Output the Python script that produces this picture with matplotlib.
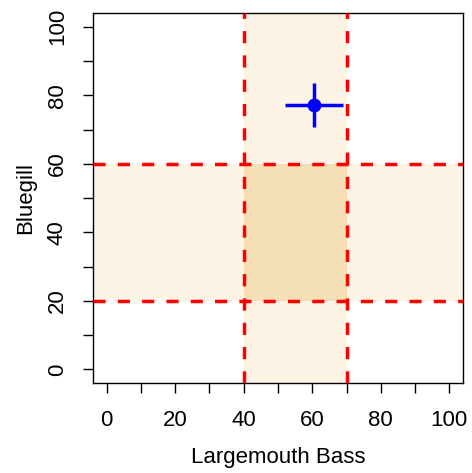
import numpy as np
import matplotlib.pyplot as plt
from matplotlib.ticker import MultipleLocator

plt.rcParams['font.family'] = ['Liberation Sans', 'DejaVu Sans']

# Habitat ranges for each species (lower, upper)
bass_range = [40, 70]
bluegill_range = [20, 60]

# Observed mean and spread
bass_mean = 60.5
bass_err = 8.4
bluegill_mean = 77.2
bluegill_err = 6.4

xticks = [0, 20, 40, 60, 80, 100]
yticks = [0, 20, 40, 60, 80, 100]

fig = plt.figure(figsize=(4.72, 4.73), dpi=100)
ax = fig.add_axes([0.197, 0.190, 0.784, 0.7825])
ax.set_xlim(-4, 104)
ax.set_ylim(-4, 104)

pale = '#fdf4e6'
dark = '#f5dfb6'

# shaded bands and their overlap
ax.axvspan(bass_range[0], bass_range[1], color=pale, lw=0, zorder=1)
ax.axhspan(bluegill_range[0], bluegill_range[1], color=pale, lw=0, zorder=1)
ax.fill_between(bass_range, bluegill_range[0], bluegill_range[1], color=dark, lw=0, zorder=2)

for v in bass_range:
    ax.axvline(v, color='red', lw=2.5, dashes=(3.5, 3.5), zorder=3)
for h in bluegill_range:
    ax.axhline(h, color='red', lw=2.5, dashes=(3.5, 3.5), zorder=3)

ax.errorbar(bass_mean, bluegill_mean, xerr=bass_err, yerr=bluegill_err,
            fmt='o', color='blue', ms=9, elinewidth=2.5, capsize=0, zorder=4)

ax.set_xticks(xticks)
ax.set_yticks(yticks)
ax.xaxis.set_minor_locator(MultipleLocator(10))
ax.yaxis.set_minor_locator(MultipleLocator(10))
ax.tick_params(which='both', direction='out', length=7, width=1, labelsize=16)
ax.tick_params(axis='x', which='both', pad=12)
ax.tick_params(axis='y', which='both', pad=11)
for lab in ax.get_yticklabels():
    lab.set_rotation(90)
    lab.set_va('center')

for s in ax.spines.values():
    s.set_linewidth(1)

ax.set_xlabel('Largemouth Bass', fontsize=16, labelpad=12)
ax.set_ylabel('Bluegill', fontsize=16, labelpad=8)

fig.savefig('out.png', dpi=100)
